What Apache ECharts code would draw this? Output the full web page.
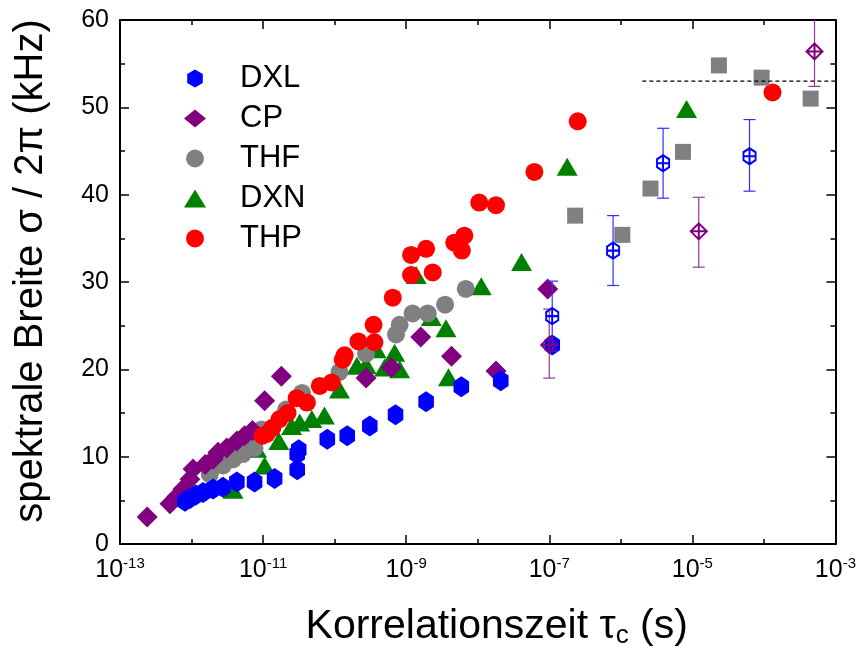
<!DOCTYPE html>
<html><head><meta charset="utf-8">
<script src="https://cdn.jsdelivr.net/npm/echarts@6/dist/echarts.min.js"></script>
<style>html,body{margin:0;padding:0;background:#fff}#c{width:859px;height:654px}</style>
</head><body><div id="c"></div>
<script>
// ---- data (tau in s, width in kHz) ----
const dxlTau = [8.1e-13, 9.5e-13, 1.15e-12, 1.45e-12, 2.0e-12, 2.75e-12, 4.3e-12, 7.6e-12, 1.45e-11, 3.0e-11, 3.0e-11, 3.15e-11, 7.9e-11, 1.5e-10, 3.1e-10, 7.1e-10, 1.9e-9, 5.9e-9, 2.1e-8, 1.1e-7];
const dxlW   = [4.9, 5.2, 5.6, 5.9, 6.3, 6.5, 7.1, 7.1, 7.5, 8.5, 10.3, 10.8, 12.0, 12.4, 13.5, 14.8, 16.3, 18.0, 18.7, 22.8];

const cpTau = [2.4e-13, 5.0e-13, 6.2e-13, 7.6e-13, 9.5e-13, 1.05e-12, 1.55e-12, 2.0e-12, 2.35e-12, 3.1e-12, 4.3e-12, 5.5e-12, 7.1e-12, 1.05e-11, 1.8e-11, 2.75e-10, 6.2e-10, 1.6e-9, 4.3e-9, 1.8e-8, 9.5e-8];
const cpW   = [3.1, 4.6, 5.4, 6.3, 7.4, 8.6, 9.1, 9.7, 10.5, 11.0, 11.8, 12.4, 13.0, 16.4, 19.2, 19.0, 20.2, 23.7, 21.5, 19.8, 29.2];

const thfTau = [1.8e-12, 2.75e-12, 3.8e-12, 5.2e-12, 5.9e-12, 7.6e-12, 9.5e-12, 2.1e-11, 3.5e-11, 1.17e-10, 2.75e-10, 7.2e-10, 8.1e-10, 1.23e-9, 2.0e-9, 3.5e-9, 6.8e-9];
const thfW   = [8.0, 9.0, 9.7, 10.3, 11.0, 11.0, 13.1, 15.4, 17.3, 19.7, 21.8, 24.0, 25.1, 26.4, 26.4, 27.4, 29.2];

const dxnTau = [2.6e-12, 3.8e-12, 8.1e-12, 1.05e-11, 1.66e-11, 2.5e-11, 3.25e-11, 4.8e-11, 7.2e-11, 1.17e-10, 2.05e-10, 2.75e-10, 3.8e-10, 5.0e-10, 6.9e-10, 8.1e-10, 1.38e-9, 2.25e-9, 3.6e-9, 3.9e-9, 1.12e-8, 4.1e-8, 1.78e-7, 8.3e-6];
const dxnW   = [6.6, 6.2, 10.9, 9.0, 11.8, 13.5, 13.9, 14.3, 14.7, 17.7, 20.4, 20.5, 22.3, 20.2, 21.9, 20.0, 30.8, 26.0, 24.7, 19.1, 29.5, 32.3, 43.2, 49.8];

const thpTau = [9.8e-12, 1.12e-11, 1.35e-11, 1.7e-11, 2.2e-11, 2.95e-11, 4.1e-11, 6.2e-11, 9.1e-11, 1.3e-10, 1.38e-10, 2.15e-10, 3.6e-10, 3.5e-10, 6.5e-10, 1.17e-9, 1.17e-9, 1.9e-9, 2.35e-9, 4.7e-9, 6.5e-9, 6.0e-9, 1.05e-8, 1.8e-8, 6.2e-8, 2.5e-7, 1.32e-4];
const thpW   = [12.4, 12.6, 13.3, 14.3, 15.0, 16.7, 16.2, 18.1, 18.5, 21.1, 21.6, 23.2, 23.1, 25.1, 28.2, 30.8, 33.1, 33.8, 31.1, 34.5, 35.3, 33.6, 39.1, 38.8, 42.6, 48.4, 51.7];

// THF second method (squares)
const thfSqTau = [2.3e-7, 1.05e-6, 2.6e-6, 7.4e-6, 2.35e-5, 9.3e-5, 4.5e-4];
const thfSqW   = [37.6, 35.4, 40.7, 44.9, 54.8, 53.4, 51.0];

// open symbols with error bars
const dxlOpenTau = [1.1e-7, 7.8e-7, 3.9e-6, 6.3e-5];
const dxlOpenW   = [26.1, 33.6, 43.6, 44.4];
const dxlOpenLo  = [22.1, 29.6, 39.6, 40.4];
const dxlOpenHi  = [30.1, 37.6, 47.6, 48.6];

const cpOpenTau = [1.0e-7, 1.23e-5, 5.1e-4];
const cpOpenW   = [22.8, 35.8, 56.4];
const cpOpenLo  = [19.0, 31.7, 52.4];
const cpOpenHi  = [26.9, 39.7, 60.5];

// dashed reference line
const refTau = [2.0e-6, 1.0e-3];
const refW   = [53, 53];

// axis ticks
const xMin = 1e-13, xMax = 1e-3;
const yMin = 0, yMax = 60, yStep = 10;

// ---- helpers ----
const zip = (a, b) => a.map((v, i) => [v, b[i]]);
const zip3 = (a, b, c) => a.map((v, i) => [v, b[i], c[i]]);
const FONT = 'Liberation Sans, Arial, Helvetica, sans-serif';

const HEX = 'path://M0,-10L8.66,-5L8.66,5L0,10L-8.66,5L-8.66,-5Z';
const HEX_OPEN = 'path://M0,-10L8.66,-5L8.66,5L0,10L-8.66,5L-8.66,-5ZM-8.66,0L8.66,0M0,-10L0,10';
const DIA_OPEN = 'path://M0,-10L10,0L0,10L-10,0ZM-10,0L10,0M0,-10L0,10';

function errRender(color) {
  return function (params, api) {
    const x = api.value(0), lo = api.value(1), hi = api.value(2);
    const a = api.coord([x, hi]), b = api.coord([x, lo]);
    const w = 6;
    const st = { stroke: color, lineWidth: 1.2 };
    return { type: 'group', children: [
      { type: 'line', shape: { x1: a[0], y1: a[1], x2: b[0], y2: b[1] }, style: st },
      { type: 'line', shape: { x1: a[0] - w, y1: a[1], x2: a[0] + w, y2: a[1] }, style: st },
      { type: 'line', shape: { x1: b[0] - w, y1: b[1], x2: b[0] + w, y2: b[1] }, style: st }
    ]};
  };
}

function xLabel(v) {
  const e = Math.round(Math.log10(v));
  return '{b|10}{s|' + e + '}';
}

const axisLineStyle = { color: '#000', width: 2 };

const chart = echarts.init(document.getElementById('c'), null, { renderer: 'canvas' });
chart.setOption({
  animation: false,
  backgroundColor: '#fff',
  grid: { left: 120, right: 23, top: 20, bottom: 107, containLabel: false },
  legend: {
    data: ['DXL', 'CP', 'THF', 'DXN', 'THP'],
    orient: 'vertical', left: 179, top: 58,
    itemWidth: 22, itemHeight: 18, itemGap: 9,
    selectedMode: false,
    textStyle: { fontSize: 31, fontFamily: FONT, color: '#000', padding: [0, 0, 0, 29] }
  },
  xAxis: [
    { type: 'log', logBase: 10, min: xMin, max: xMax, interval: 2, position: 'bottom', gridIndex: 0,
      name: 'Korrelationszeit τ{sub|c} (s)', nameLocation: 'middle', nameGap: 61,
      nameTextStyle: { fontSize: 41, fontFamily: FONT, color: '#000', padding: [0, 0, 0, 38],
        rich: { sub: { fontSize: 26, fontFamily: FONT, color: '#000', padding: [18, 0, 0, 0] } } },
      axisLine: { show: true, lineStyle: axisLineStyle, onZero: false },
      axisTick: { show: true, inside: true, length: 9, lineStyle: { color: '#000', width: 1.5 } },
      splitLine: { show: false },
      axisLabel: { show: true, margin: 12, formatter: xLabel, color: '#000',
        rich: { b: { fontSize: 25, fontFamily: FONT, color: '#000' },
                s: { fontSize: 15, fontFamily: FONT, color: '#000', padding: [0, 0, 14, 0] } } } },
    { type: 'log', logBase: 10, min: xMin, max: xMax, interval: 1, position: 'bottom', gridIndex: 0,
      axisLine: { show: false, onZero: false },
      axisTick: { show: true, inside: true, length: 5, lineStyle: { color: '#000', width: 1.5 } },
      splitLine: { show: false }, axisLabel: { show: false } },
    { type: 'log', logBase: 10, min: xMin, max: xMax, interval: 2, position: 'top', gridIndex: 0,
      axisLine: { show: true, lineStyle: axisLineStyle, onZero: false },
      axisTick: { show: true, inside: true, length: 9, lineStyle: { color: '#000', width: 1.5 } },
      splitLine: { show: false }, axisLabel: { show: false } },
    { type: 'log', logBase: 10, min: xMin, max: xMax, interval: 1, position: 'top', gridIndex: 0,
      axisLine: { show: false, onZero: false },
      axisTick: { show: true, inside: true, length: 5, lineStyle: { color: '#000', width: 1.5 } },
      splitLine: { show: false }, axisLabel: { show: false } }
  ],
  yAxis: [
    { type: 'value', min: yMin, max: yMax, interval: yStep, position: 'left',
      name: 'spektrale Breite σ / 2π (kHz)', nameLocation: 'middle', nameGap: 69,
      nameTextStyle: { fontSize: 40, fontFamily: FONT, color: '#000', padding: [0, 0, 0, 22] },
      axisLine: { show: true, lineStyle: axisLineStyle, onZero: false },
      axisTick: { show: true, inside: true, length: 9, lineStyle: { color: '#000', width: 1.5 } },
      minorTick: { show: true, splitNumber: 2, length: 5, lineStyle: { color: '#000', width: 1.5 } },
      splitLine: { show: false }, minorSplitLine: { show: false },
      axisLabel: { fontSize: 25, fontFamily: FONT, color: '#000', margin: 11 } },
    { type: 'value', min: yMin, max: yMax, interval: yStep, position: 'right',
      axisLine: { show: true, lineStyle: axisLineStyle, onZero: false },
      axisTick: { show: true, inside: true, length: 9, lineStyle: { color: '#000', width: 1.5 } },
      minorTick: { show: true, splitNumber: 2, length: 5, lineStyle: { color: '#000', width: 1.5 } },
      splitLine: { show: false }, axisLabel: { show: false } }
  ],
  series: [
    { name: 'DXN', type: 'scatter', data: zip(dxnTau, dxnW), symbol: 'triangle', symbolSize: [21, 18],
      itemStyle: { color: '#008000', opacity: 1 } },
    { name: 'THF', type: 'scatter', data: zip(thfTau, thfW), symbol: 'circle', symbolSize: 18,
      itemStyle: { color: '#808080', opacity: 1 } },
    { name: 'CP', type: 'scatter', data: zip(cpTau, cpW), symbol: 'diamond', symbolSize: 21,
      itemStyle: { color: '#800080', opacity: 1 } },
    { name: 'DXL', type: 'scatter', data: zip(dxlTau, dxlW), symbol: HEX, symbolKeepAspect: true, symbolSize: [18, 21],
      itemStyle: { color: '#0000ff', opacity: 1 } },
    { name: 'THP', type: 'scatter', data: zip(thpTau, thpW), symbol: 'circle', symbolSize: 18,
      itemStyle: { color: '#ff0000', opacity: 1 } },
    { name: 'THF sq', type: 'scatter', data: zip(thfSqTau, thfSqW), symbol: 'rect', symbolSize: 16,
      itemStyle: { color: '#808080', opacity: 1 } },
    { name: 'DXL err', type: 'custom', renderItem: errRender('#3030ff'), data: zip3(dxlOpenTau, dxlOpenLo, dxlOpenHi),
      encode: { x: 0, y: [1, 2] }, clip: true, z: 3 },
    { name: 'CP err', type: 'custom', renderItem: errRender('#993399'), data: zip3(cpOpenTau, cpOpenLo, cpOpenHi),
      encode: { x: 0, y: [1, 2] }, clip: true, z: 3 },
    { name: 'DXL open', type: 'scatter', data: zip(dxlOpenTau, dxlOpenW), symbol: HEX_OPEN, symbolKeepAspect: true, symbolSize: [14, 16],
      itemStyle: { color: 'rgba(255,255,255,0)', borderColor: '#0000ff', borderWidth: 2, opacity: 1 }, z: 4 },
    { name: 'CP open', type: 'scatter', data: zip(cpOpenTau, cpOpenW), symbol: DIA_OPEN, symbolSize: 16,
      itemStyle: { color: 'rgba(255,255,255,0)', borderColor: '#800080', borderWidth: 2, opacity: 1 }, z: 4 },
    { name: 'ref', type: 'line', data: zip(refTau, refW), symbol: 'none', silent: true,
      lineStyle: { color: '#000', width: 1.2, type: [4, 3] }, z: 4 }
  ]
});
</script>
</body></html>
